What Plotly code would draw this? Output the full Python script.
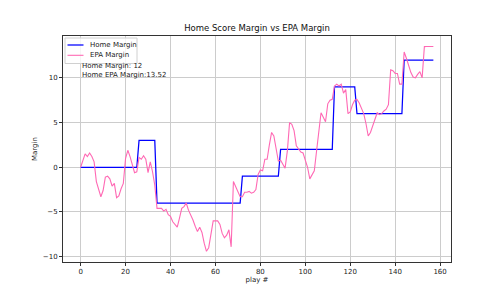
import plotly.graph_objects as go

plays = list(range(158))

home_margin = ([0] * 26 + [3] * 8 + [-4] * 38 + [-1] * 17 + [2] * 24 +
               [9] * 10 + [6] * 21 + [12] * 14)

epa_margin = [
    0.0, 0.9, 1.5, 1.2, 1.6, 1.2, 0.6, -1.6, -2.4, -3.3,
    -2.6, -1.1, -1.0, -1.3, -2.1, -1.8, -3.4, -3.2, -2.4, -1.8,
    1.0, 1.9, 1.2, 0.4, -0.6, -0.5, 1.1, 0.9, 1.3, 0.9,
    -0.6, 0.6, -0.5, -2.0, -4.6, -4.6, -4.6, -4.9, -4.7, -5.3,
    -5.5, -6.1, -6.4, -6.7, -5.7, -4.6, -4.4, -4.0, -4.8, -5.3,
    -5.9, -6.6, -7.2, -6.7, -7.3, -8.5, -9.4, -9.0, -7.4, -6.0,
    -6.0, -6.0, -6.4, -7.4, -7.9, -7.6, -7.0, -8.9, -1.6, -2.2,
    -2.9, -3.3, -3.3, -2.8, -2.8, -2.7, -2.9, -2.8, -2.5, -0.8,
    -0.3, -0.4, 0.9, 0.9, 2.5, 3.9, 3.5, 2.3, 0.7, 0.8,
    0.3, -0.1, 1.8, 5.0, 4.8, 4.1, 2.4, 2.0, 1.7, 1.6,
    0.9, 0.0, -1.3, -0.9, -0.4, 1.8, 4.2, 6.1, 5.6, 5.1,
    7.1, 7.5, 7.6, 9.1, 9.3, 9.1, 9.3, 8.3, 8.7, 6.0,
    6.2, 7.0, 7.5, 7.6, 7.2, 6.5, 6.0, 4.9, 3.5, 3.9,
    4.7, 5.4, 6.1, 5.9, 6.0, 6.3, 6.5, 7.0, 10.9, 10.8,
    10.5, 10.5, 9.3, 9.3, 12.9, 12.2, 11.3, 10.6, 10.1, 10.0,
    10.4, 10.7, 10.0, 13.5, 13.52, 13.52, 13.52, 13.52,
]

x_ticks = [0, 20, 40, 60, 80, 100, 120, 140, 160]
y_ticks = [-10, -5, 0, 5, 10]
legend_names = ["Home Margin", "EPA Margin"]
final_home = 12
final_epa = 13.52

BLUE = "#0000ff"
PINK = "#ff69b4"
FONT = "DejaVu Sans"

fig = go.Figure()
fig.add_trace(go.Scatter(x=plays, y=home_margin, mode="lines", name=legend_names[0],
                         line=dict(color=BLUE, width=1.25)))
fig.add_trace(go.Scatter(x=plays, y=epa_margin, mode="lines", name=legend_names[1],
                         line=dict(color=PINK, width=1.1)))

axis_common = dict(showgrid=True, gridcolor="#cccccc", gridwidth=1,
                   showline=True, linecolor="#333333", linewidth=1, mirror=True,
                   ticks="outside", ticklen=3, tickcolor="#333333",
                   tickfont=dict(family=FONT, size=7, color="#222222"),
                   zeroline=False)

fig.update_layout(
    width=500, height=300,
    margin=dict(l=63, r=49, t=36, b=38),
    paper_bgcolor="white", plot_bgcolor="white",
    showlegend=False,
    title=dict(text="Home Score Margin vs EPA Margin", x=0.514, xanchor="center",
               y=0.905, yanchor="middle",
               font=dict(family=FONT, size=8.5, color="#111111")),
    xaxis=dict(range=[-7.85, 164.85], tickvals=x_ticks,
               title=dict(text="play #", font=dict(family=FONT, size=7, color="#222222"),
                          standoff=1),
               **axis_common),
    yaxis=dict(range=[-10.6, 14.69], tickvals=y_ticks,
               title=dict(text="Margin", font=dict(family=FONT, size=7, color="#222222"),
                          standoff=4),
               **axis_common),
)

# legend drawn manually (matplotlib-like)
x0p, wpx = 63, 388
y0p, hpx = 36, 226


def px_x(p):
    return (p - x0p) / wpx


def px_y(p):
    return 1 - (p - y0p) / hpx


fig.add_shape(type="rect", xref="paper", yref="paper",
              x0=px_x(65), x1=px_x(137), y0=px_y(63.5), y1=px_y(38),
              line=dict(color="#d0d0d0", width=1), fillcolor="rgba(255,255,255,0.8)")
for i, (name, col) in enumerate(zip(legend_names, [BLUE, PINK])):
    yy = 45 + i * 10.3
    fig.add_shape(type="line", xref="paper", yref="paper",
                  x0=px_x(67.5), x1=px_x(83.5), y0=px_y(yy), y1=px_y(yy),
                  line=dict(color=col, width=1.25 if i == 0 else 1.1))
    fig.add_annotation(xref="paper", yref="paper", x=px_x(88), y=px_y(yy),
                       text=name, showarrow=False, xanchor="left", yanchor="middle",
                       font=dict(family=FONT, size=7, color="#222222"))

fig.add_annotation(xref="paper", yref="paper", x=px_x(80), y=px_y(66),
                   text=f"Home Margin: {final_home}", showarrow=False,
                   xanchor="left", yanchor="middle",
                   font=dict(family=FONT, size=7, color="#222222"))
fig.add_annotation(xref="paper", yref="paper", x=px_x(80), y=px_y(74.5),
                   text=f"Home EPA Margin:{final_epa}", showarrow=False,
                   xanchor="left", yanchor="middle",
                   font=dict(family=FONT, size=7, color="#222222"))

fig.write_html("out.html")
